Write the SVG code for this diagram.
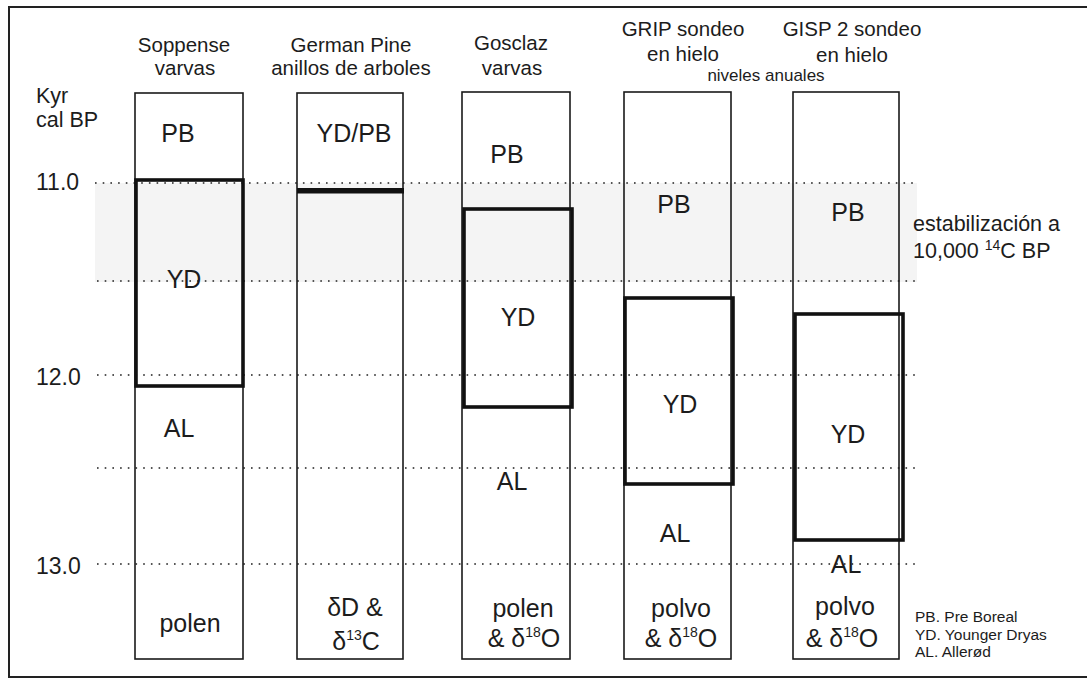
<svg xmlns="http://www.w3.org/2000/svg" width="1087" height="680" viewBox="0 0 1087 680">
<style>
text{font-family:"Liberation Sans",Arial,Helvetica,sans-serif;fill:#1c1c1c}
.hd{font-size:20.5px;text-anchor:middle}
.lb{font-size:25px;text-anchor:middle}
.ax{font-size:23px}
.ky{font-size:21.5px}
.sm{font-size:17px;text-anchor:middle}
.lg{font-size:15.5px}
.es{font-size:21.5px}
.col{fill:none;stroke:#1a1a1a;stroke-width:1.6}
.yd{fill:none;stroke:#111;stroke-width:3.6}
.dot{stroke:#555;stroke-width:1.8;stroke-dasharray:1.6 6.1;fill:none}
.sup{font-size:14px}
</style>
<rect x="0" y="0" width="1087" height="680" fill="#ffffff"/>
<!-- shaded stabilization band -->
<rect id="band" x="95" y="183" width="822" height="99" fill="#f4f4f4"/>
<!-- frame -->
<path id="frame" d="M1087 7 H9 V677 H1087" fill="none" stroke="#222" stroke-width="2"/>

<!-- axis -->
<g id="axis">
<text class="ky" x="36" y="103">Kyr</text>
<text class="ky" x="36" y="127">cal BP</text>
<text class="ax" x="36" y="190">11.0</text>
<text class="ax" x="36" y="385">12.0</text>
<text class="ax" x="36" y="574">13.0</text>
</g>

<!-- dotted guide lines -->
<g id="connectors">
<line class="dot" x1="95" y1="183" x2="917" y2="183"/>
<line class="dot" x1="97" y1="281" x2="917" y2="281"/>
<line class="dot" x1="97" y1="375" x2="917" y2="375"/>
<line class="dot" x1="97" y1="468" x2="917" y2="468"/>
<line class="dot" x1="97" y1="564" x2="917" y2="564"/>
</g>

<g id="soppense">
<text class="hd" x="184" y="52">Soppense</text>
<text class="hd" x="185" y="75">varvas</text>
<rect class="col" x="135" y="93" width="108" height="566"/>
<rect class="yd" x="136" y="180" width="107" height="206"/>
<text class="lb" x="178" y="142">PB</text>
<text class="lb" x="184" y="288">YD</text>
<text class="lb" x="179" y="437">AL</text>
<text class="lb" x="190" y="632">polen</text>
</g>

<g id="german-pine">
<text class="hd" x="351" y="52">German Pine</text>
<text class="hd" x="351" y="75">anillos de arboles</text>
<rect class="col" x="297" y="93" width="106" height="566"/>
<rect x="297" y="188" width="107" height="5.5" fill="#111"/>
<text class="lb" x="354" y="142">YD/PB</text>
<text class="lb" x="355" y="616">δD &amp;</text>
<text class="lb" x="356" y="650">δ<tspan class="sup" dy="-10">13</tspan><tspan dy="10">C</tspan></text>
</g>

<g id="gosclaz">
<text class="hd" x="511" y="50">Gosclaz</text>
<text class="hd" x="512" y="75">varvas</text>
<rect class="col" x="462" y="92" width="108" height="567"/>
<rect class="yd" x="464" y="209" width="108" height="198"/>
<text class="lb" x="507" y="163">PB</text>
<text class="lb" x="518" y="326">YD</text>
<text class="lb" x="512" y="490">AL</text>
<text class="lb" x="523" y="617">polen</text>
<text class="lb" x="524" y="647">&amp; δ<tspan class="sup" dy="-10">18</tspan><tspan dy="10">O</tspan></text>
</g>

<g id="grip">
<text class="hd" x="683" y="36">GRIP sondeo</text>
<text class="hd" x="683" y="61">en hielo</text>
<rect class="col" x="624" y="92" width="107" height="567"/>
<rect class="yd" x="625" y="298" width="108" height="186"/>
<text class="lb" x="674" y="213">PB</text>
<text class="lb" x="680" y="413">YD</text>
<text class="lb" x="675" y="542">AL</text>
<text class="lb" x="681" y="617">polvo</text>
<text class="lb" x="681" y="647">&amp; δ<tspan class="sup" dy="-10">18</tspan><tspan dy="10">O</tspan></text>
</g>

<text id="niveles" class="sm" x="766" y="81">niveles anuales</text>

<g id="gisp2">
<text class="hd" x="852" y="36">GISP 2 sondeo</text>
<text class="hd" x="852" y="62">en hielo</text>
<rect class="col" x="793" y="92" width="106" height="567"/>
<rect class="yd" x="795" y="314" width="108" height="226"/>
<text class="lb" x="848" y="221">PB</text>
<text class="lb" x="848" y="443">YD</text>
<text class="lb" x="846" y="573">AL</text>
<text class="lb" x="845" y="615">polvo</text>
<text class="lb" x="842" y="647">&amp; δ<tspan class="sup" dy="-10">18</tspan><tspan dy="10">O</tspan></text>
</g>

<g id="note">
<text class="es" x="913" y="231">estabilización a</text>
<text class="es" x="913" y="258">10,000 <tspan class="sup" font-size="11px" dy="-8">14</tspan><tspan dy="8">C BP</tspan></text>
</g>

<g id="legend">
<text class="lg" x="915" y="622">PB. Pre Boreal</text>
<text class="lg" x="915" y="640">YD. Younger Dryas</text>
<text class="lg" x="915" y="657">AL. Allerød</text>
</g>
</svg>
